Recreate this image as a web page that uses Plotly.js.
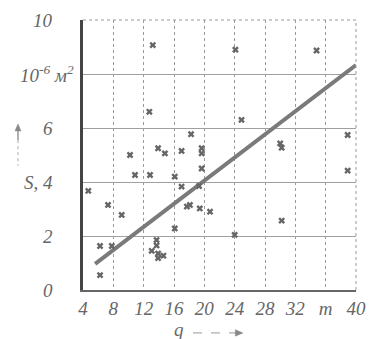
<!DOCTYPE html>
<html>
<head>
<meta charset="utf-8">
<script src="https://cdn.plot.ly/plotly-3.0.1.min.js"></script>
<style>html,body{margin:0;padding:0;background:#fff;}#chart{width:378px;height:339px;}</style>
</head>
<body>
<div id="chart"></div>
<script>
// Measured points: q (x) and S (y, 10^-6 m^2)
const qValues = [13.2, 24.1, 34.8, 12.75, 24.9, 18.25, 38.9, 30.0, 30.2, 13.9,
  14.8, 17.0, 19.65, 19.65, 10.2, 19.65, 38.9, 10.86, 12.84, 16.1,
  17.0, 19.3, 4.7, 7.3, 17.7, 18.1, 19.4, 20.75, 9.1, 30.2,
  16.1, 24.0, 13.7, 13.7, 13.06, 13.9, 14.6, 13.9, 6.25, 7.8, 6.25];
const sValues = [9.07, 8.9, 8.87, 6.6, 6.3, 5.77, 5.74, 5.43, 5.27, 5.25,
  5.06, 5.15, 5.25, 5.06, 5.0, 4.5, 4.42, 4.26, 4.26, 4.2,
  3.83, 3.85, 3.67, 3.15, 3.09, 3.15, 3.02, 2.9, 2.78, 2.57,
  2.28, 2.04, 1.85, 1.65, 1.45, 1.35, 1.27, 1.18, 1.63, 1.63, 0.55];
// Regression line end points
const lineQ = [5.6, 40];
const lineS = [0.97, 8.33];
// Tick labels
const xTickVals = [4, 8, 12, 16, 20, 24, 28, 32, 36, 40];
const xTickText = ['4', '8', '12', '16', '20', '24', '28', '32', 'т', '40'];
const yTickVals = [0, 2, 4, 6, 8, 10];
const yTickText = ['0', '2', 'S, 4', '6', '10<sup>-6</sup> м<sup>2</sup>', '10'];
const xTitle = 'q';

const textColor = '#666';
const fontFam = '"Liberation Serif", "DejaVu Serif", serif';

const traces = [
  {x: lineQ, y: lineS, mode: 'lines', type: 'scatter',
   line: {color: '#7a7a7a', width: 4}, hoverinfo: 'skip'},
  {x: qValues, y: sValues, mode: 'markers', type: 'scatter',
   marker: {symbol: 'x', size: 6, color: '#666'}}
];

const annotations = yTickVals.map((v, i) => ({
  xref: 'paper', yref: 'y', x: 0, y: v, xanchor: 'right', yanchor: 'middle',
  xshift: i === 4 ? -7 : -28, text: '<i>' + yTickText[i] + '</i>', showarrow: false,
  font: {family: fontFam, size: 19, color: textColor}
}));
annotations.push({
  xref: 'paper', yref: 'paper', x: 0.35, y: -0.145, xanchor: 'center', yanchor: 'middle',
  text: '<i>' + xTitle + '</i>', showarrow: false, font: {family: fontFam, size: 19, color: textColor}
});

// arrow geometry in paper units
const vx = -0.2381, vTop = 0.615;
const hy = -0.159, hx0 = 0.403, hx1 = 0.586;

const layout = {
  width: 378, height: 339,
  margin: {l: 83, r: 22, t: 20, b: 49},
  paper_bgcolor: '#fff', plot_bgcolor: '#fff',
  showlegend: false,
  xaxis: {
    range: [4, 40], tickvals: xTickVals, ticktext: xTickText.map(t => '<i>' + t + '</i>'),
    ticks: '', showgrid: true, gridcolor: '#9a9a9a', griddash: 'dot', gridwidth: 1,
    showline: true, linecolor: '#666', linewidth: 2, zeroline: false,
    tickfont: {family: fontFam, size: 19, color: textColor}, ticklabelstandoff: 0
  },
  yaxis: {
    range: [0, 10], tickvals: yTickVals, showticklabels: false,
    ticks: '', showgrid: true, gridcolor: '#a0a0a0', gridwidth: 1,
    showline: true, linecolor: '#444', linewidth: 3, zeroline: false
  },
  shapes: [
    {type: 'line', xref: 'paper', yref: 'paper', x0: 0, x1: 1, y0: 1, y1: 1,
     line: {color: '#9a9a9a', width: 1, dash: 'dot'}},
    {type: 'line', xref: 'paper', yref: 'paper', x0: 1, x1: 1, y0: 0, y1: 1,
     line: {color: '#9a9a9a', width: 1, dash: 'dot'}},
    // vertical arrow next to the y labels
    {type: 'line', xref: 'paper', yref: 'paper', x0: vx, x1: vx, y0: vTop - 0.02, y1: vTop - 0.06,
     line: {color: '#888', width: 1.3}},
    {type: 'line', xref: 'paper', yref: 'paper', x0: vx, x1: vx, y0: vTop - 0.06, y1: vTop - 0.155,
     line: {color: '#aaa', width: 1, dash: 'dot'}},
    {type: 'path', xref: 'paper', yref: 'paper',
     path: `M ${vx} ${vTop} L ${vx - 0.011} ${vTop - 0.026} L ${vx + 0.011} ${vTop - 0.026} Z`,
     fillcolor: '#888', line: {color: '#888', width: 0.5}},
    // horizontal arrow after q
    {type: 'line', xref: 'paper', yref: 'paper', x0: hx0, x1: hx1 - 0.02, y0: hy, y1: hy,
     line: {color: '#999', width: 1, dash: 'dash'}},
    {type: 'path', xref: 'paper', yref: 'paper',
     path: `M ${hx1} ${hy} L ${hx1 - 0.028} ${hy + 0.012} L ${hx1 - 0.028} ${hy - 0.012} Z`,
     fillcolor: '#888', line: {color: '#888', width: 0.5}}
  ],
  annotations: annotations
};

Plotly.newPlot('chart', traces, layout, {staticPlot: true, displayModeBar: false});
</script>
</body>
</html>
